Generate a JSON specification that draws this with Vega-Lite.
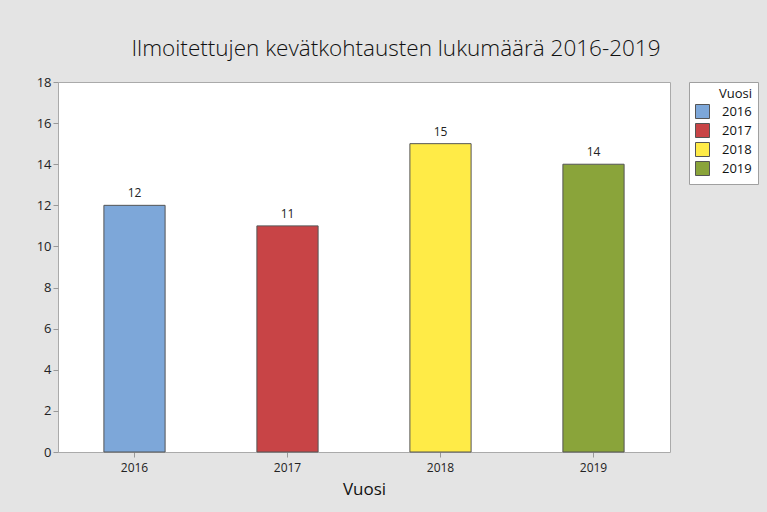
{
  "$schema": "https://vega.github.io/schema/vega-lite/v6.json",
  "autosize": "none",
  "width": 612,
  "height": 370,
  "padding": {"left": 58, "top": 82, "right": 97, "bottom": 60},
  "background": "#e4e4e4",
  "title": {
    "text": "Ilmoitettujen kevätkohtausten lukumäärä 2016-2019",
    "font": "Open Sans",
    "fontSize": 22.5,
    "fontWeight": 300,
    "color": "#111111",
    "anchor": "middle",
    "dx": 32,
    "offset": 16
  },
  "config": {
    "view": {"stroke": "#aaaaaa", "fill": "white"},
    "axis": {
      "labelFont": "Open Sans",
      "titleFont": "Open Sans",
      "labelColor": "#222222",
      "titleColor": "#111111",
      "tickColor": "#999999",
      "domain": false,
      "grid": false,
      "tickSize": 5
    },
    "legend": {
      "labelFont": "Open Sans",
      "titleFont": "Open Sans"
    }
  },
  "data": {
    "values": [
      {"Vuosi": "2016", "Lukumaara": 12},
      {"Vuosi": "2017", "Lukumaara": 11},
      {"Vuosi": "2018", "Lukumaara": 15},
      {"Vuosi": "2019", "Lukumaara": 14}
    ]
  },
  "encoding": {
    "x": {
      "field": "Vuosi",
      "type": "nominal",
      "scale": {"paddingInner": 0.6, "paddingOuter": 0.3},
      "axis": {
        "labelAngle": 0,
        "labelFontSize": 12,
        "labelPadding": 5,
        "title": "Vuosi",
        "titleFontSize": 17,
        "titleFontWeight": "normal",
        "titlePadding": 8
      }
    },
    "y": {
      "field": "Lukumaara",
      "type": "quantitative",
      "scale": {"domain": [0, 18]},
      "axis": {
        "values": [0, 2, 4, 6, 8, 10, 12, 14, 16, 18],
        "labelFontSize": 13,
        "labelPadding": 2,
        "title": null
      }
    }
  },
  "layer": [
    {
      "mark": {"type": "bar", "stroke": "#555555", "strokeWidth": 1},
      "encoding": {
        "color": {
          "field": "Vuosi",
          "type": "nominal",
          "scale": {
            "domain": ["2016", "2017", "2018", "2019"],
            "range": ["#7da7d9", "#c84446", "#ffeb47", "#8aa43a"]
          },
          "legend": {
            "title": "Vuosi",
            "orient": "right",
            "offset": 19,
            "fillColor": "white",
            "strokeColor": "#a0a0a0",
            "padding": 6,
            "titleFontSize": 13,
            "titleFontWeight": "normal",
            "titleColor": "#111111",
            "titleAnchor": "end",
            "titlePadding": 3,
            "labelFontSize": 13,
            "labelColor": "#111111",
            "labelOffset": 12,
            "symbolType": "square",
            "symbolSize": 196,
            "symbolStrokeColor": "#555555",
            "symbolStrokeWidth": 1,
            "rowPadding": 0
          }
        }
      }
    },
    {
      "mark": {
        "type": "text",
        "baseline": "bottom",
        "dy": -5,
        "font": "Open Sans",
        "fontSize": 12,
        "color": "#222222"
      },
      "encoding": {
        "text": {"field": "Lukumaara", "type": "quantitative"}
      }
    }
  ]
}
